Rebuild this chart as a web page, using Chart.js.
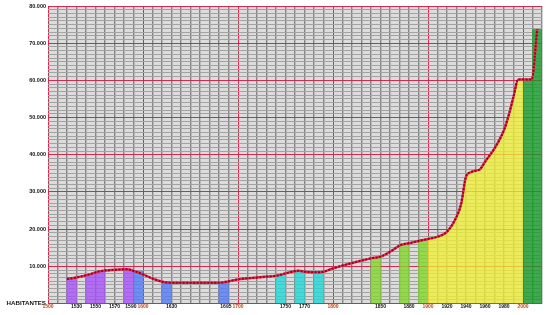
<!DOCTYPE html>
<html lang="es">
<head>
  <meta charset="UTF-8">
  <title>Habitantes 1500-2015</title>
  <script src="https://cdn.jsdelivr.net/npm/chart.js"></script>
  <style>
    html, body { margin: 0; padding: 0; background: #fff; }
    #wrap { width: 550px; height: 315px; }
  </style>
</head>
<body>
  <div id="wrap"><canvas id="popChart"></canvas></div>

  <script>
    // curva de población (año, habitantes)
    const lineYears = [1520, 1530, 1544, 1555, 1567, 1583, 1590, 1600, 1611, 1623, 1630,
      1681, 1688, 1700, 1723, 1744, 1750, 1764, 1770, 1783, 1790, 1800, 1821, 1840, 1850,
      1860, 1871, 1880, 1890, 1900, 1910, 1920, 1930, 1935, 1940, 1945, 1950, 1955, 1960,
      1970, 1980, 1985, 1990, 1995, 2000, 2009, 2015];
    const linePop = [6600, 7000, 7850, 8700, 9000, 9200, 8750, 7850, 6600, 5700, 5600,
      5600, 5850, 6500, 7050, 7650, 8100, 8800, 8550, 8400, 8550, 9450, 10950, 12150, 12600,
      13900, 15700, 16200, 16800, 17350, 17950, 19300, 23300, 26900, 34100, 35300, 35700, 36150, 38100,
      41700, 46650, 50650, 55600, 60250, 60250, 60250, 73700];

    // barras por década (año de inicio, habitantes)
    const barDecades = [1520, 1540, 1550, 1580, 1590, 1620, 1680, 1740, 1760, 1780,
      1840, 1870, 1890, 2000, 2010];
    const barPop = [6950, 7850, 8550, 9250, 8750, 5700, 5700, 7650, 8750, 8400,
      12150, 15900, 17050, 60250, 73700];

    // etiquetas del eje
    const xTickYears = [1500, 1530, 1550, 1570, 1590, 1600, 1630, 1695, 1700, 1750, 1770,
      1800, 1850, 1880, 1900, 1920, 1940, 1960, 1980, 2000];
    const yLabelStep = 10000;
    const yAxisTitle = 'HABITANTES';

    function barColor(year) {
      if (year < 1590) return 'rgba(165, 80, 248, 0.78)';
      if (year < 1700) return 'rgba(80, 120, 248, 0.78)';
      if (year < 1800) return 'rgba(30, 215, 215, 0.78)';
      if (year < 1900) return 'rgba(130, 215, 40, 0.78)';
      return 'rgba(20, 155, 40, 0.78)';
    }

    const tickVal = ctx => (ctx && ctx.tick ? ctx.tick.value : NaN);

    const linePoints = lineYears.map((y, i) => ({ x: y, y: linePop[i] }));
    const areaPoints = linePoints.filter(p => p.x >= 1900 && p.x <= 2000);
    const barPoints = barDecades.map((d, i) => ({ x: d + 5, y: barPop[i] }));

    const plotBg = {
      id: 'plotBg',
      beforeDraw(chart) {
        const a = chart.chartArea, c = chart.ctx;
        c.save();
        c.fillStyle = '#dcdcdc';
        c.fillRect(a.left, a.top, a.right - a.left, a.bottom - a.top);
        c.restore();
      }
    };

    const yearLabels = {
      id: 'yearLabels',
      afterDraw(chart) {
        const c = chart.ctx, sx = chart.scales.x;
        c.save();
        c.font = 'bold 5px "Liberation Sans", Arial, sans-serif';
        c.textAlign = 'center';
        c.textBaseline = 'middle';
        const pos = xTickYears.map(y => sx.getPixelForValue(y));
        const w = xTickYears.map(y => c.measureText(String(y)).width);
        for (let i = 1; i < pos.length; i++) {
          const over = (pos[i - 1] + w[i - 1] / 2 + 1) - (pos[i] - w[i] / 2);
          if (over > 0) pos[i - 1] -= over;
        }
        xTickYears.forEach((y, i) => {
          c.fillStyle = y % 100 === 0 ? '#b8461c' : '#111';
          c.fillText(String(y), pos[i], chart.chartArea.bottom + 3.5);
        });
        c.restore();
      }
    };

    new Chart(document.getElementById('popChart'), {
      data: {
        datasets: [
          {
            type: 'line',
            data: linePoints,
            borderColor: '#9e0020',
            borderWidth: 2,
            borderDash: [2, 1.5],
            pointRadius: 0,
            cubicInterpolationMode: 'monotone',
            order: 0
          },
          {
            type: 'line',
            data: linePoints,
            borderColor: '#e0304e',
            borderWidth: 2.4,
            pointRadius: 0,
            cubicInterpolationMode: 'monotone',
            order: 1
          },
          {
            type: 'line',
            data: areaPoints,
            borderWidth: 0,
            pointRadius: 0,
            fill: 'origin',
            backgroundColor: 'rgba(240, 240, 50, 0.75)',
            cubicInterpolationMode: 'monotone',
            order: 2
          },
          {
            type: 'bar',
            data: barPoints,
            backgroundColor: barPoints.map(p => barColor(p.x)),
            borderWidth: 0,
            barPercentage: 1,
            categoryPercentage: 1,
            order: 3
          }
        ]
      },
      options: {
        responsive: true,
        maintainAspectRatio: false,
        animation: false,
        layout: { padding: { top: 6, right: 8, bottom: 11.5, left: 0 } },
        plugins: { legend: { display: false }, tooltip: { enabled: false } },
        scales: {
          x: {
            type: 'linear',
            min: 1500,
            max: 2020,
            offset: false,
            ticks: { stepSize: 10, display: false },
            border: { display: false },
            grid: {
              offset: false,
              drawTicks: false,
              color: ctx => tickVal(ctx) % 100 === 0 ? '#d42a52' : '#858585',
              lineWidth: ctx => tickVal(ctx) % 100 === 0 ? 1 : 1.4
            }
          },
          y: {
            min: 0,
            max: 80000,
            afterFit(scale) { scale.width = 48; },
            border: { display: false },
            grid: {
              drawTicks: false,
              color: ctx => tickVal(ctx) % yLabelStep === 0 ? '#d42a52' : '#a2a2a2',
              lineWidth: 1
            },
            ticks: {
              stepSize: 1000,
              autoSkip: false,
              padding: 2,
              color: '#111',
              font: ctx => ({
                family: '"Liberation Sans", Arial, sans-serif',
                weight: 'bold',
                size: tickVal(ctx) === 0 ? 6.2 : 5.5
              }),
              callback: v => {
                if (v === 0) return yAxisTitle;
                if (v % yLabelStep !== 0) return '';
                return v.toLocaleString('de-DE');
              }
            }
          }
        }
      },
      plugins: [plotBg, yearLabels]
    });
  </script>
</body>
</html>
